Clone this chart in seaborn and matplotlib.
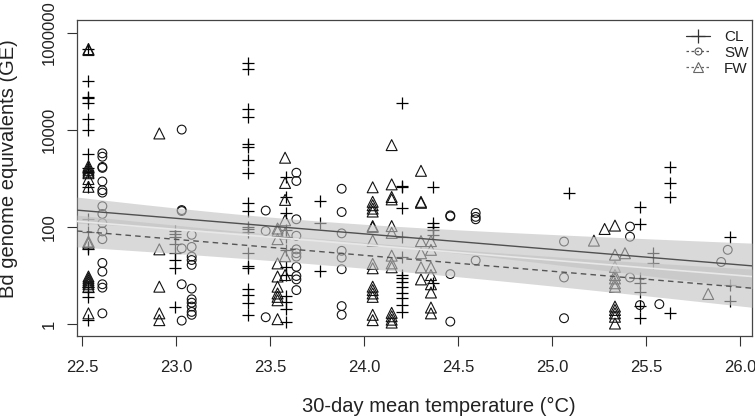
import numpy as np
import pandas as pd
import matplotlib
matplotlib.use("Agg")
import matplotlib.pyplot as plt
from matplotlib.lines import Line2D
import seaborn as sns

# ---------------- data (y values as log10 of GE) -------------
cl_temp_levels = [22.534, 22.995, 23.385, 23.585, 23.766, 24.20, 24.367, 25.092,
                  25.468, 25.539, 25.628, 25.947]
cl_log10_ge = [
    [5.67, 5.02, 4.69, 4.66, 4.55, 4.22, 4.01, 3.50, 3.22, 3.14, 2.83, 2.16, 1.90,
     1.59, 1.55, 0.77, 0.66, 0.56, 0.08],
    [1.92, 1.86, 1.80, 1.66, 1.46, 1.33, 1.16, 0.36],
    [5.39, 5.25, 4.43, 4.27, 3.71, 3.66, 3.38, 3.12, 2.50, 2.34, 2.01, 1.95, 1.90,
     1.46, 1.20, 1.15, 0.72, 0.60, 0.43, 0.19],
    [3.04, 2.62, 2.28, 1.94, 1.80, 1.53, 1.18, 1.01, 0.58, 0.46, 0.32, 0.05],
    [2.53, 2.09, 1.10],
    [4.56, 2.85, 2.83, 2.39, 1.80, 1.39, 1.01, 0.94, 0.87, 0.77, 0.63, 0.53, 0.39, 0.25],
    [2.83, 2.09, 2.01, 1.93, 1.84, 0.84],
    [2.71],
    [2.42, 2.06, 0.94, 0.84, 0.67, 0.37, 0.12],
    [1.46, 1.25],
    [3.24, 2.90, 2.62, 0.22],
    [1.79, 0.80, 0.48],
]

sw_temp_levels = [22.608, 23.03, 23.083, 23.477, 23.64, 23.881, 24.459, 24.594,
                  25.064, 25.415, 25.468, 25.571, 25.90, 25.935]
sw_log10_ge = [
    [3.52, 3.45, 3.24, 3.22, 2.94, 2.76, 2.71, 2.43, 2.27, 2.08, 1.91, 1.75, 1.26,
     1.08, 0.82, 0.75, 0.22],
    [4.01, 2.35, 2.33, 1.56, 0.82, 0.07],
    [1.84, 1.59, 1.39, 1.32, 1.22, 0.73, 0.51, 0.44, 0.36, 0.25, 0.19],
    [2.34, 1.92, 0.14],
    [3.12, 2.95, 2.16, 1.82, 1.54, 1.46, 1.39, 1.18, 0.99, 0.92, 0.70],
    [2.79, 2.31, 1.87, 1.51, 1.37, 1.13, 0.37, 0.19],
    [2.24, 2.22, 1.03, 0.05],
    [2.29, 2.21, 2.16, 1.31],
    [1.70, 0.96, 0.12],
    [2.01, 1.80, 0.96],
    [0.39],
    [0.41],
    [1.28],
    [1.53],
]

fw_temp_levels = [22.534, 22.911, 23.54, 23.58, 24.046, 24.147, 24.303, 24.356,
                  25.223, 25.28, 25.335, 25.388, 25.831]
fw_log10_ge = [
    [5.67, 5.65, 3.26, 3.22, 3.18, 3.14, 3.11, 2.99, 2.83, 1.70, 1.66, 0.98, 0.94,
     0.90, 0.86, 0.82, 0.77, 0.22],
    [3.93, 1.54, 0.77, 0.22, 0.08],
    [1.97, 1.92, 1.75, 1.25, 0.98, 0.77, 0.63, 0.56, 0.49, 0.10],
    [3.43, 2.91, 2.56, 2.14, 1.87, 1.40, 1.01],
    [2.82, 2.52, 2.45, 2.38, 2.32, 2.02, 2.00, 1.72, 1.24, 1.15, 0.77, 0.70, 0.63,
     0.56, 0.19, 0.08],
    [3.69, 2.88, 2.62, 2.57, 2.02, 1.88, 1.41, 1.25, 1.17, 0.23, 0.16, 0.09, 0.03],
    [3.16, 2.52, 2.50, 1.71, 1.46, 1.17, 0.92],
    [1.71, 1.53, 1.17, 1.01, 0.82, 0.65, 0.34, 0.22],
    [1.72],
    [1.96],
    [2.03, 1.43, 1.18, 1.01, 0.94, 0.84, 0.77, 0.36, 0.29, 0.22, 0.15, 0.01],
    [1.46],
    [0.62],
]

# fitted lines (log10 GE at 22.5 and 26.0 °C) and confidence-band parameters
fit_temp_ends = [22.5, 26.0]
cl_fit_log10 = [2.34, 1.22]
sw_fit_log10 = [1.91, 0.76]
fw_fit_log10 = [2.11, 1.00]
cl_ci = dict(hmin=0.185, center=23.6, curv=0.0305)
sw_ci = dict(hmin=0.266, center=23.9, curv=0.018)

x_ticks = [22.5, 23.0, 23.5, 24.0, 24.5, 25.0, 25.5, 26.0]
y_ticks = [1, 100, 10000, 1000000]
y_tick_labels = ["1", "100", "10000", "1000000"]
groups = ["CL", "SW", "FW"]


def expand(levels, vals, name):
    rows = []
    for t, ys in zip(levels, vals):
        for v in ys:
            rows.append((t, 10 ** v, name))
    return pd.DataFrame(rows, columns=["temp", "ge", "group"])


df = pd.concat([expand(cl_temp_levels, cl_log10_ge, "CL"),
                expand(sw_temp_levels, sw_log10_ge, "SW"),
                expand(fw_temp_levels, fw_log10_ge, "FW")], ignore_index=True)

# ---------------- figure -----------------
sns.set_style("white")
plt.rcParams["font.family"] = ["Liberation Sans", "DejaVu Sans"]

fig = plt.figure(figsize=(7.55, 4.17), dpi=100)
ax = fig.add_axes([77 / 755, 81 / 417, 675 / 755, 316 / 417])

xlim = (22.473, 26.064)
ylim = (10 ** -0.247, 10 ** 6.27)

sns.scatterplot(data=df[df.group == "CL"], x="temp", y="ge", marker="+",
                color="black", s=80, linewidth=0.9, ax=ax, legend=False)
sns.scatterplot(data=df[df.group == "SW"], x="temp", y="ge", marker="o",
                facecolor="none", edgecolor="#111111", s=40, linewidth=0.8,
                ax=ax, legend=False)
sns.scatterplot(data=df[df.group == "FW"], x="temp", y="ge", marker="^",
                facecolor="none", edgecolor="#111111", s=62, linewidth=0.8,
                ax=ax, legend=False)

grid = np.linspace(xlim[0], xlim[1], 200)


def line_vals(ends):
    slope = (ends[1] - ends[0]) / (fit_temp_ends[1] - fit_temp_ends[0])
    return ends[0] + slope * (grid - fit_temp_ends[0])


for ends, ci in [(cl_fit_log10, cl_ci), (sw_fit_log10, sw_ci)]:
    c = line_vals(ends)
    h = np.sqrt(ci["hmin"] ** 2 + ci["curv"] * (grid - ci["center"]) ** 2)
    ax.fill_between(grid, 10 ** (c - h), 10 ** (c + h), color="#c2c2c2",
                    alpha=0.62, linewidth=0, zorder=3)

sns.lineplot(x=grid, y=10 ** line_vals(fw_fit_log10), color="#e8e8e8",
             linewidth=1.2, ax=ax, zorder=4)
sns.lineplot(x=grid, y=10 ** line_vals(cl_fit_log10), color="#505050",
             linewidth=1.0, ax=ax, zorder=5)
sns.lineplot(x=grid, y=10 ** line_vals(sw_fit_log10), color="#555555",
             linewidth=1.0, linestyle=(0, (4, 3)), ax=ax, zorder=5)

ax.set_yscale("log")
ax.set_xlim(*xlim)
ax.set_ylim(*ylim)
ax.set_xticks(x_ticks)
ax.set_xticklabels([f"{t:.1f}" for t in x_ticks])
ax.set_yticks(y_ticks)
ax.set_yticklabels(y_tick_labels, rotation=90, va="center")
ax.minorticks_off()
ax.tick_params(axis="both", which="major", direction="out", length=7.5,
               width=0.8, color="#333333", labelsize=12, labelcolor="#222222",
               left=True, bottom=True, top=False, right=False)
ax.tick_params(axis="x", pad=9.5)
ax.tick_params(axis="y", pad=7)
for sp in ax.spines.values():
    sp.set_visible(True)
    sp.set_color("#444444")
    sp.set_linewidth(0.9)

ax.set_xlabel("30-day mean temperature (°C)", fontsize=14.5, color="#222222")
ax.set_ylabel("Bd genome equivalents (GE)", fontsize=14.5, color="#222222")
ax.xaxis.set_label_coords(0.536, -0.192)
ax.yaxis.set_label_coords(-0.088, 0.53)

handles = [
    Line2D([], [], color="#333333", lw=0.9, ls="-", marker="+", ms=10, mew=0.9),
    Line2D([], [], color="#555555", lw=0.9, ls=(0, (2, 2)), marker="o", ms=5,
           mfc="none", mew=0.8),
    Line2D([], [], color="#666666", lw=0.9, ls=(0, (2, 2)), marker="^", ms=6.5,
           mfc="none", mew=0.8),
]
leg = ax.legend(handles, groups, loc="upper left", frameon=False,
                bbox_to_anchor=(686 / 755, 1 - 30 / 417),
                bbox_transform=fig.transFigure, fontsize=11,
                handlelength=1.55, handletextpad=0.95, labelspacing=0.12,
                borderpad=0, borderaxespad=0)
for t in leg.get_texts():
    t.set_color("#222222")

fig.savefig("out.png", dpi=100)
